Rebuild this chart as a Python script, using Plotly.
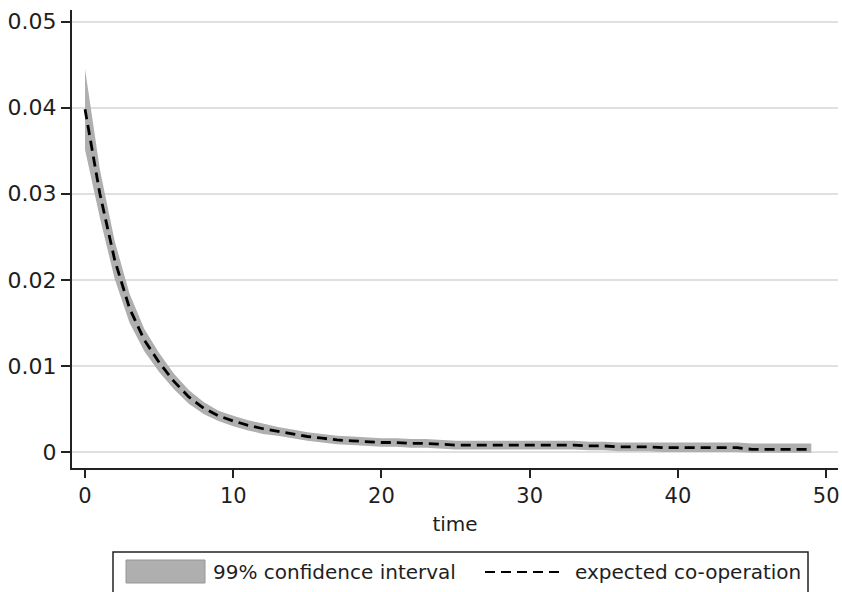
import plotly.graph_objects as go

time = list(range(50))
expected = [0.0398, 0.0300, 0.0223, 0.0167, 0.0130, 0.0104, 0.0082, 0.0064, 0.0051, 0.0042,
            0.0036, 0.0031, 0.0027, 0.0024, 0.0021, 0.0018, 0.0016, 0.0014, 0.0013, 0.0012,
            0.0011, 0.0011, 0.0010, 0.0010, 0.0009, 0.0008, 0.0008, 0.0008, 0.0008, 0.0008,
            0.0008, 0.0008, 0.0008, 0.0008, 0.0007, 0.0007, 0.0006, 0.0006, 0.0006, 0.0005,
            0.0005, 0.0005, 0.0005, 0.0005, 0.0005, 0.0003, 0.0003, 0.0003, 0.0003, 0.0003]
ci_upper = [0.0445, 0.0328, 0.0245, 0.0184, 0.0143, 0.0115, 0.0091, 0.0072, 0.0058, 0.0048,
            0.0042, 0.0037, 0.0033, 0.0029, 0.0026, 0.0023, 0.0021, 0.0019, 0.0018, 0.0017,
            0.0016, 0.0016, 0.0015, 0.0015, 0.0014, 0.0013, 0.0013, 0.0013, 0.0013, 0.0013,
            0.0013, 0.0013, 0.0013, 0.0013, 0.0012, 0.0012, 0.0011, 0.0011, 0.0011, 0.0011,
            0.0011, 0.0011, 0.0011, 0.0011, 0.0011, 0.0010, 0.0010, 0.0010, 0.0010, 0.0010]
ci_lower = [0.0351, 0.0272, 0.0201, 0.0150, 0.0117, 0.0093, 0.0073, 0.0056, 0.0044, 0.0036,
            0.0030, 0.0025, 0.0021, 0.0019, 0.0016, 0.0013, 0.0011, 0.0009, 0.0008, 0.0007,
            0.0006, 0.0006, 0.0005, 0.0005, 0.0004, 0.0003, 0.0003, 0.0003, 0.0003, 0.0003,
            0.0003, 0.0003, 0.0003, 0.0003, 0.0002, 0.0002, 0.0001, 0.0001, 0.0001, 0.0000,
            0.0000, 0.0000, 0.0000, 0.0000, 0.0000, -0.0001, -0.0001, -0.0001, -0.0001, -0.0001]

y_ticks = [0, 0.01, 0.02, 0.03, 0.04, 0.05]
y_labels = ["0", "0.01", "0.02", "0.03", "0.04", "0.05"]
x_ticks = [0, 10, 20, 30, 40, 50]

legend_ci = "99% confidence interval"
legend_exp = "expected co-operation"

band_color = "rgb(175,175,175)"
text_color = "#1e1e1e"
font_family = "DejaVu Sans"

fig = go.Figure()
fig.add_trace(go.Scatter(x=time, y=ci_upper, mode="lines", line=dict(width=0, color=band_color),
                         showlegend=False, hoverinfo="skip"))
fig.add_trace(go.Scatter(x=time, y=ci_lower, mode="lines", line=dict(width=0, color=band_color),
                         fill="tonexty", fillcolor=band_color, name=legend_ci, showlegend=False))
fig.add_trace(go.Scatter(x=time, y=expected, mode="lines",
                         line=dict(color="black", width=2.8, dash="10px,6px"),
                         name=legend_exp, showlegend=False))

# page body margin is removed below, so figure pixels == screen pixels
W, H = 842, 592
plot_left, plot_right, plot_top, plot_bottom = 72, 838, 10, 468
ml, mt = plot_left, plot_top
mr, mb = W - plot_right, H - plot_bottom
pw, ph = W - ml - mr, H - mt - mb

def px(xs):
    return (xs - ml) / pw

def py(ys):
    return (H - mb - ys) / ph

shapes = [
    dict(type="rect", xref="paper", yref="paper", x0=px(113), x1=px(808), y0=py(600), y1=py(552),
         line=dict(color="#222", width=1.5), fillcolor="white", layer="above"),
    dict(type="rect", xref="paper", yref="paper", x0=px(126), x1=px(205), y0=py(583), y1=py(560),
         line=dict(color="rgb(150,150,150)", width=1), fillcolor=band_color, layer="above"),
    dict(type="line", xref="paper", yref="paper", x0=px(485), x1=px(562), y0=py(572), y1=py(572),
         line=dict(color="black", width=2.2, dash="10px,6px"), layer="above"),
]
annotations = [
    dict(xref="paper", yref="paper", x=px(211), y=py(572), text=legend_ci, showarrow=False,
         xanchor="left", yanchor="middle", font=dict(family=font_family, size=20, color=text_color)),
    dict(xref="paper", yref="paper", x=px(573), y=py(572), text=legend_exp, showarrow=False,
         xanchor="left", yanchor="middle", font=dict(family=font_family, size=20, color=text_color)),
]

fig.update_layout(
    width=W, height=H,
    margin=dict(l=ml, r=mr, t=mt, b=mb, autoexpand=False),
    paper_bgcolor="white", plot_bgcolor="white",
    font=dict(family=font_family, size=22, color=text_color),
    showlegend=False,
    shapes=shapes, annotations=annotations,
    xaxis=dict(range=[-0.88, 50.8], tickvals=x_ticks, ticks="outside", ticklen=8, tickwidth=2,
               tickcolor="#222", showline=True, linecolor="#222", linewidth=2, showgrid=False,
               zeroline=False, tickfont=dict(size=21), automargin=False,
               title=dict(text="time", font=dict(size=20), standoff=10)),
    yaxis=dict(range=[-0.00186, 0.05134], tickvals=y_ticks, ticktext=y_labels, ticks="outside",
               ticklen=9, tickwidth=2, tickcolor="#222", showline=True, linecolor="#222", linewidth=2,
               showgrid=True, gridcolor="rgb(224,224,224)", gridwidth=2, zeroline=False,
               tickfont=dict(size=22), automargin=False),
)

fig.write_html("out.html", config={"displayModeBar": False},
               post_script="document.body.style.margin='0';document.body.style.overflow='hidden';")
